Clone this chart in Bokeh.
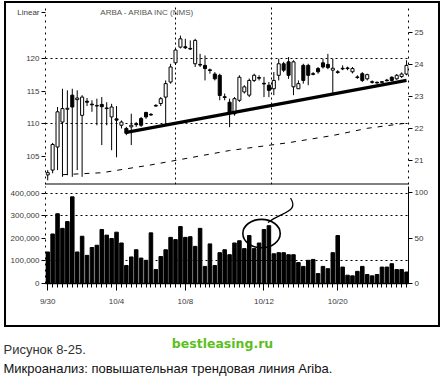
from bokeh.plotting import figure
from bokeh.models import (Range1d, LinearAxis, FixedTicker, NumeralTickFormatter,
                          Label, Grid, Span, ColumnDataSource)
from bokeh.layouts import column
from bokeh.embed import file_html
from bokeh.resources import INLINE

# ---------------- data ----------------
opens = [20.55, 20.70, 21.42, 22.20, 22.60, 23.04, 22.90, 22.41, 22.85, 22.76,
         22.70, 22.75, 22.62, 22.36, 22.30, 22.10, 22.00, 22.05, 22.15, 22.31,
         22.50, 22.44, 22.72, 22.78, 22.98, 23.45, 24.05, 24.54, 24.55, 24.50,
         24.02, 24.00, 23.97, 23.83, 23.70, 23.66, 22.99, 22.82, 22.46, 22.88,
         23.14, 23.04, 23.50, 23.59, 23.41, 23.35, 23.24, 23.66, 24.02, 24.08,
         23.30, 23.24, 23.97, 23.97, 23.71, 23.87, 24.05, 24.00, 23.82, 23.77,
         23.88, 23.89, 23.77, 23.61, 23.71, 23.55, 23.46, 23.44, 23.46, 23.51,
         23.60, 23.55, 23.62, 23.70]
closes = [20.62, 21.50, 22.52, 22.62, 22.63, 22.67, 22.95, 22.98, 22.82, 22.74,
          22.72, 22.68, 22.64, 22.67, 22.26, 22.20, 21.85, 22.10, 22.12, 22.10,
          22.36, 22.42, 22.70, 22.93, 23.40, 23.92, 24.45, 24.80, 24.52, 24.48,
          24.75, 23.98, 23.87, 23.81, 23.55, 23.03, 22.97, 22.46, 22.93, 23.60,
          23.30, 23.50, 23.66, 23.57, 23.39, 23.19, 23.50, 24.02, 23.82, 23.66,
          24.08, 23.40, 23.50, 23.66, 23.69, 23.77, 23.92, 23.90, 23.88, 23.75,
          23.86, 23.87, 23.87, 23.59, 23.50, 23.68, 23.44, 23.42, 23.44, 23.49,
          23.50, 23.66, 23.70, 23.97]
highs = [20.70, 21.55, 22.67, 23.24, 23.19, 23.24, 23.19, 23.04, 22.95, 22.88,
         22.93, 22.98, 22.82, 22.77, 22.70, 22.25, 22.05, 22.46, 22.20, 22.36,
         22.52, 22.48, 22.76, 22.98, 23.50, 24.02, 24.50, 24.90, 24.80, 24.75,
         24.80, 24.33, 24.28, 23.87, 23.76, 23.71, 23.09, 22.93, 22.98, 23.66,
         23.35, 23.56, 23.71, 23.66, 23.61, 23.45, 23.76, 24.18, 24.08, 24.23,
         24.13, 23.50, 24.02, 24.02, 23.76, 23.92, 24.18, 24.33, 24.18, 23.82,
         23.97, 23.93, 23.92, 23.66, 23.76, 23.71, 23.50, 23.47, 23.48, 23.55,
         23.63, 23.70, 23.75, 24.13]
lows = [20.38, 20.60, 20.70, 20.49, 20.54, 20.49, 20.70, 20.49, 22.70, 22.52,
        22.10, 21.48, 22.10, 21.32, 21.10, 22.00, 21.79, 21.48, 22.05, 22.05,
        22.30, 22.40, 22.68, 22.70, 22.10, 23.40, 23.98, 24.50, 24.48, 24.45,
        23.92, 23.92, 23.50, 23.71, 23.50, 22.88, 22.88, 22.04, 22.40, 22.83,
        23.09, 22.98, 23.45, 23.50, 22.98, 22.98, 23.04, 23.50, 23.76, 23.55,
        23.04, 23.24, 23.40, 23.35, 23.66, 23.71, 23.87, 23.85, 23.09, 23.71,
        23.82, 23.82, 23.72, 23.55, 23.45, 23.50, 23.40, 23.40, 23.42, 23.47,
        23.47, 23.52, 23.58, 23.66]
volumes = [140, 220, 310, 245, 275, 385, 140, 210, 125, 160,
           170, 240, 215, 200, 228, 180, 80, 118, 150, 113,
           103, 225, 62, 120, 150, 205, 195, 253, 205, 208,
           165, 245, 76, 176, 80, 137, 150, 128, 180, 190,
           155, 213, 155, 180, 240, 257, 132, 137, 137, 128,
           128, 93, 76, 103, 107, 44, 76, 66, 137, 213,
           73, 37, 34, 54, 76, 40, 34, 40, 73, 73,
           88, 62, 62, 51]  # thousands of shares

# dashed comparison series (left price scale)
cmp_idx = [3, 11, 21, 29, 37, 49, 58, 65, 73]
cmp_val = [102.2, 102.5, 103.7, 104.8, 105.9, 107.1, 108.2, 109.3, 110.1]

# hand-drawn rising trend line
trend_idx = [16, 73]
trend_val = [21.88, 23.50]

tick_idx = [0, 14, 28, 44, 59]
tick_labels = ["9/30", "10/4", "10/8", "10/12", "10/20"]
left_price_ticks = [105, 110, 115, 120]
right_price_ticks = [21, 22, 23, 24, 25]
left_grid = [110, 120]
vgrid = [26, 45.5]
vol_ticks = [0, 100000, 200000, 300000, 400000]
vol_grid = [100000, 300000, 400000]
pct_ticks = [0, 50, 100]

title_text = "ARBA - ARIBA INC (NMS)"
corner_text = "Linear"
corner_level = 127.0   # position of the scale caption on the left scale
caption1 = "Рисунок 8-25."
caption2 = "Микроанализ: повышательная трендовая линия Ariba."
watermark = "bestleasing.ru"

# ---------------- derived ----------------
n = len(opens)
idx = list(range(n))
up = [c >= o for o, c in zip(opens, closes)]
src = ColumnDataSource(dict(
    x=idx, o=opens, c=closes, h=highs, l=lows,
    top=[max(o, c) for o, c in zip(opens, closes)],
    bot=[min(o, c) for o, c in zip(opens, closes)],
    fill=["white" if u else "black" for u in up],
    vol=[v * 1000 for v in volumes],
))

FONT = "Liberation Sans"
TC = "#3a3a3a"


def style_axis(ax):
    ax.major_label_text_font = FONT
    ax.major_label_text_font_size = "8px"
    ax.major_label_text_color = TC
    ax.major_tick_in = 0
    ax.major_tick_out = 4
    ax.minor_tick_in = 0
    ax.minor_tick_out = 0
    ax.major_label_standoff = 2
    ax.axis_line_color = "black"
    ax.major_tick_line_color = "black"


xr = Range1d(-0.45, 73.4)

# ---------------- price panel ----------------
fp = figure(width=432, height=182, x_range=xr, y_range=Range1d(20.25, 25.84),
            x_axis_location=None, y_axis_location=None,
            output_backend="svg", toolbar_location=None,
            min_border_left=39, min_border_right=30, min_border_top=2, min_border_bottom=1)
fp.outline_line_color = None
fp.background_fill_color = "white"
for r in list(fp.center):
    if isinstance(r, Grid):
        r.visible = False

fp.extra_y_ranges = {"cmp": Range1d(100.7, 128.1)}
lax = LinearAxis(y_range_name="cmp",
                 ticker=FixedTicker(ticks=left_price_ticks + [corner_level]))
style_axis(lax)
lax.axis_line_dash = "dotted"
lax.major_label_overrides = {corner_level: corner_text}
fp.add_layout(lax, "left")
pax = LinearAxis(ticker=FixedTicker(ticks=right_price_ticks))
style_axis(pax)
pax.axis_line_dash = "dotted"
fp.add_layout(pax, "right")

fp.add_layout(Grid(dimension=1, ticker=FixedTicker(ticks=left_grid), y_range_name="cmp",
                   grid_line_color="black", grid_line_dash="2 3", grid_line_width=1))
fp.add_layout(Grid(dimension=0, ticker=FixedTicker(ticks=vgrid),
                   grid_line_color="black", grid_line_dash="2 3", grid_line_width=1))

fp.line(cmp_idx, cmp_val, y_range_name="cmp", line_color="black", line_width=1,
        line_dash="5 6")

fp.segment(x0="x", y0="h", x1="x", y1="l", source=src, line_color="black", line_width=1)
fp.vbar(x="x", top="top", bottom="bot", width=0.62, source=src,
        fill_color="fill", line_color="black", line_width=1)

fp.line(trend_idx, trend_val, line_color="black", line_width=3.2)

fp.add_layout(Span(location=20.25, dimension="width", line_color="black", line_width=2))

fp.add_layout(Label(x=10.7, y=25.62, text=title_text, text_font=FONT, text_font_size="8px",
                    text_color="#555", text_baseline="middle"))

# ---------------- volume panel ----------------
fv = figure(width=432, height=140, x_range=xr, y_range=Range1d(0, 431000),
            output_backend="svg", toolbar_location=None,
            min_border_left=39, min_border_right=30, min_border_top=1, min_border_bottom=42)
fv.outline_line_color = None
fv.extra_y_ranges = {"pct": Range1d(0, 106.6)}
rax = LinearAxis(y_range_name="pct", ticker=FixedTicker(ticks=pct_ticks))
fv.add_layout(rax, "right")

fv.yaxis[0].ticker = FixedTicker(ticks=vol_ticks)
fv.yaxis[0].formatter = NumeralTickFormatter(format="0,0")
for ax in fv.yaxis:
    style_axis(ax)
fv.yaxis[0].axis_line_dash = "dotted"

xa = fv.xaxis[0]
style_axis(xa)
xa.ticker = FixedTicker(ticks=tick_idx, minor_ticks=idx)
xa.major_label_overrides = {t: s for t, s in zip(tick_idx, tick_labels)}
xa.major_tick_out = 7
xa.minor_tick_out = 4
xa.minor_tick_line_color = "black"
xa.axis_line_width = 1.5
xa.major_label_standoff = 6

fv.xgrid.visible = False
fv.ygrid.ticker = FixedTicker(ticks=vol_grid)
fv.ygrid.grid_line_color = "black"
fv.ygrid.grid_line_dash = "2 3"

fv.vbar(x="x", top="vol", bottom=0, width=0.72, source=src,
        fill_color="black", line_color="black")

# annotation: circled volume spike with hooked pointer
fv.ellipse(x=[43.5], y=[222000], width=[7.6], height=[126000],
           fill_color=None, line_color="black", line_width=1.6)
fv.bezier(x0=[44.8], y0=[271000], x1=[49.4], y1=[380000],
          cx0=[47.6], cy0=[318000], cx1=[51.2], cy1=[318000],
          line_color="black", line_width=1.3)

# ---------------- caption ----------------
fc = figure(width=444, height=59, output_backend="svg", toolbar_location=None,
            x_axis_location=None, y_axis_location=None,
            x_range=Range1d(0, 444), y_range=Range1d(0, 59),
            min_border_left=0, min_border_right=0, min_border_top=0, min_border_bottom=0)
fc.outline_line_color = None
fc.xgrid.visible = False
fc.ygrid.visible = False
fc.add_layout(Label(x=3, y=30, x_units="screen", y_units="screen", text=caption1,
                    text_font=FONT, text_font_size="13px", text_color="#333"))
fc.add_layout(Label(x=222, y=36, x_units="screen", y_units="screen", text=watermark,
                    text_font="DejaVu Sans", text_font_size="12.5px", text_font_style="bold",
                    text_color="#5cbf1e", text_align="center"))
fc.add_layout(Label(x=3, y=11, x_units="screen", y_units="screen", text=caption2,
                    text_font=FONT, text_font_size="13px", text_color="#111"))

inner = column(fp, fv, styles={"border": "2px solid black", "margin-left": "4px",
                               "margin-top": "1px"})
layout = column(inner, fc)

open("out.html", "w").write(file_html(layout, INLINE))
